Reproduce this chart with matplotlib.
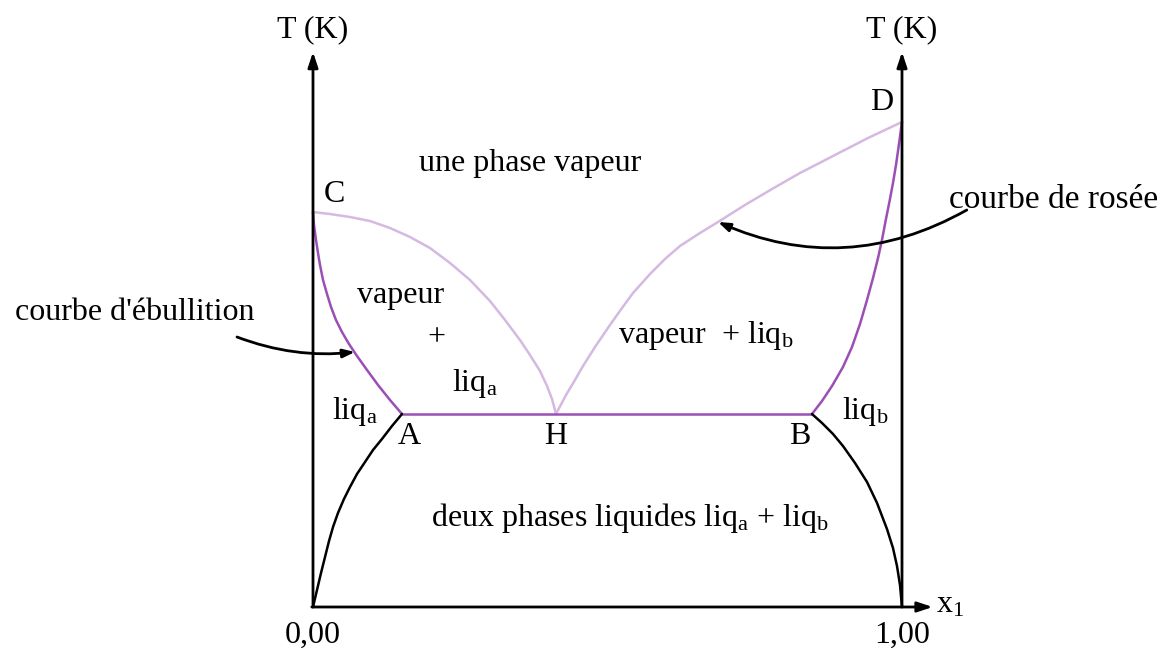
import matplotlib.pyplot as plt

plt.rcParams['font.family'] = ['Liberation Serif', 'DejaVu Serif']
plt.rcParams['mathtext.fontset'] = 'custom'
plt.rcParams['mathtext.rm'] = 'Liberation Serif'
plt.rcParams['mathtext.it'] = 'Liberation Serif:italic'

# x1 : fraction molaire ; T : unite arbitraire (pas de graduation sur l'axe)
bulle_g_x = [0.0, 0.0017, 0.0051, 0.0085, 0.0119, 0.017, 0.0238, 0.0306, 0.039,
             0.0492, 0.0611, 0.0747, 0.0917, 0.1104, 0.1307, 0.1511]
bulle_g_T = [395, 382, 367, 354, 342, 327, 313, 300, 287, 275, 263, 251, 237, 222, 207, 193]

rosee_g_x = [0.0, 0.0289, 0.0628, 0.0968, 0.1307, 0.1647, 0.1986, 0.2326, 0.2666,
             0.3005, 0.326, 0.3514, 0.3684, 0.3854, 0.3973, 0.4058, 0.4126]
rosee_g_T = [395, 393, 390, 386, 379, 370, 359, 344, 327, 306, 287, 267, 252, 236,
             221, 208, 193]

rosee_d_x = [0.4126, 0.4295, 0.4448, 0.4584, 0.4788, 0.5042, 0.5246, 0.5433, 0.5722,
             0.5976, 0.6231, 0.657, 0.6876, 0.7334, 0.7793, 0.8268, 0.8862, 0.9423, 1.0]
rosee_d_T = [193, 212, 227, 241, 260, 282, 299, 314, 333, 348, 361, 374, 385, 402,
             418, 434, 452, 469, 485]

bulle_d_x = [0.8472, 0.8642, 0.8812, 0.8998, 0.9151, 0.9287, 0.9406, 0.9508, 0.9593,
             0.9660, 0.9728, 0.9796, 0.9847, 0.9898, 0.9949, 1.0]
bulle_d_T = [193, 206, 221, 240, 260, 283, 307, 329, 349, 367, 388, 408, 424, 442, 463, 485]

sol_g_x = [0.0, 0.0068, 0.0136, 0.0204, 0.0272, 0.034, 0.0424, 0.0526, 0.0628, 0.0747,
           0.0883, 0.1019, 0.1171, 0.1341, 0.1511]
sol_g_T = [0, 17, 34, 50, 66, 80, 94, 108, 120, 133, 145, 157, 168, 181, 193]

sol_d_x = [0.8472, 0.8642, 0.8829, 0.8998, 0.9202, 0.9406, 0.9576, 0.9745, 0.9847,
           0.9915, 0.9966, 1.0]
sol_d_T = [193, 184, 173, 161, 144, 125, 104, 78, 59, 41, 22, 0]

# points remarquables
x_A, x_H, x_B = 0.1511, 0.4126, 0.8472
T_eut = 193
T_C, T_D = 395, 485

violet = '#9b4fb5'
lilas = '#d5b9e2'

fig = plt.figure(figsize=(11.73, 6.5), dpi=100)
ax = fig.add_axes([0, 0, 1, 1])
ax.set_xlim(-0.5314, 1.4601)
ax.set_ylim(-43, 607)
ax.axis('off')

# axes avec fleches
fleche = dict(arrowstyle='-|>,head_length=0.9,head_width=0.3', color='black', lw=2,
              shrinkA=0, shrinkB=0)
ax.annotate('', xy=(0, 555), xytext=(0, 0), arrowprops=fleche)
ax.annotate('', xy=(1, 555), xytext=(1, 0), arrowprops=fleche)
ax.annotate('', xy=(1.052, 0), xytext=(-0.002, 0), arrowprops=fleche)

# courbes
kw = dict(lw=1.8, solid_joinstyle='round', solid_capstyle='round')
ax.plot(rosee_g_x, rosee_g_T, color=lilas, **kw)
ax.plot(rosee_d_x, rosee_d_T, color=lilas, **kw)
ax.plot(bulle_g_x, bulle_g_T, color=violet, **kw)
ax.plot(bulle_d_x, bulle_d_T, color=violet, **kw)
ax.plot([x_A, x_B], [T_eut, T_eut], color=violet, **kw)
ax.plot(sol_g_x, sol_g_T, color='black', **kw)
ax.plot(sol_d_x, sol_d_T, color='black', **kw)

fs = 23
ax.text(0, 577, 'T (K)', ha='center', va='center', fontsize=fs)
ax.text(1, 577, 'T (K)', ha='center', va='center', fontsize=fs)
ax.text(0, -28, '0,00', ha='center', va='center', fontsize=fs)
ax.text(1, -28, '1,00', ha='center', va='center', fontsize=fs)
ax.text(1.058, 2, r'x$_1$', ha='left', va='center', fontsize=fs)

ax.text(0.037, T_C + 17, 'C', ha='center', va='center', fontsize=fs)
ax.text(0.966, T_D + 19, 'D', ha='center', va='center', fontsize=fs)
ax.text(x_A + 0.013, T_eut - 23, 'A', ha='center', va='center', fontsize=fs)
ax.text(x_H, T_eut - 23, 'H', ha='center', va='center', fontsize=fs)
ax.text(x_B - 0.02, T_eut - 23, 'B', ha='center', va='center', fontsize=fs)

ax.text(0.368, 444, 'une phase vapeur', ha='center', va='center', fontsize=fs)
ax.text(0.148, 311, 'vapeur', ha='center', va='center', fontsize=fs)
ax.text(0.209, 269, '+', ha='center', va='center', fontsize=fs)
ax.text(0.275, 223, r'liq$_\mathrm{a}$', ha='center', va='center', fontsize=fs)
ax.text(0.071, 195, r'liq$_\mathrm{a}$', ha='center', va='center', fontsize=fs)
ax.text(0.666, 271, r'vapeur  + liq$_\mathrm{b}$', ha='center', va='center', fontsize=fs)
ax.text(0.937, 195, r'liq$_\mathrm{b}$', ha='center', va='center', fontsize=fs)
ax.text(0.538, 89, r'deux phases liquides liq$_\mathrm{a}$ + liq$_\mathrm{b}$',
        ha='center', va='center', fontsize=fs)

# annotations des courbes
tete = '-|>,head_length=0.7,head_width=0.25'
ax.text(-0.302, 295, "courbe d'ébullition", ha='center', va='center', fontsize=fs)
ax.annotate('', xy=(0.0713, 255), xytext=(-0.129, 270),
            arrowprops=dict(arrowstyle=tete, color='black', lw=2, shrinkA=0, shrinkB=0,
                            connectionstyle='arc3,rad=0.12'))
ax.text(1.258, 407, 'courbe de rosée', ha='center', va='center', fontsize=fs + 1)
ax.annotate('', xy=(0.6876, 385), xytext=(1.110, 397),
            arrowprops=dict(arrowstyle=tete, color='black', lw=2, shrinkA=0, shrinkB=0,
                            connectionstyle='arc3,rad=-0.25'))

fig.savefig('out.png', dpi=100)
